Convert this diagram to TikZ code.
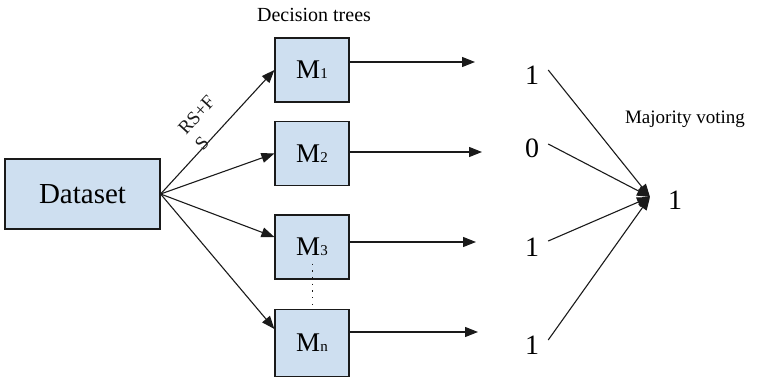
\documentclass[tikz,border=0pt]{standalone}
\usepackage{fontspec}
\setmainfont{Liberation Serif}
\newfontfamily\timesfont{Liberation Serif}
\usetikzlibrary{arrows.meta}
\definecolor{boxfill}{HTML}{CEDFF0}
\definecolor{edge}{HTML}{1A1A1A}
\tikzset{
  treebox/.style={draw=edge,fill=boxfill,line width=1.2pt,minimum width=74pt,minimum height=64pt,inner sep=0pt,font=\timesfont\fontsize{27}{27}\selectfont},
  flow/.style={edge,-{Triangle[length=13pt,width=10pt]},line width=1.1pt},
  vote/.style={font=\timesfont\fontsize{28}{28}\selectfont,inner sep=0pt}
}
\newcommand{\treeidx}[1]{{\fontsize{15}{15}\selectfont #1}}

\begin{document}
\begin{tikzpicture}[x=1pt,y=-1pt]
  \useasboundingbox (0,0) rectangle (763,380);

  % Input
  \node[treebox,minimum width=155pt,minimum height=70pt,font=\timesfont\fontsize{29}{29}\selectfont] (data) at (82.5,194) {Dataset};

  % Decision trees
  \node[font=\timesfont\fontsize{20}{20}\selectfont] (title) at (314,15) {Decision trees};
  \node[treebox] (m1) at (312,70) {M\treeidx{1}};
  \node[treebox] (m2) at (312,153.5) {M\treeidx{2}};
  \node[treebox] (m3) at (312,247) {M\treeidx{3}};
  \node[treebox,minimum height=67pt] (mn) at (312,343) {M\treeidx{n}};
  \draw[edge,line width=1pt,dash pattern=on 1.2pt off 5.5pt] ([yshift=16pt]m3.south) -- (mn.north);

  % Sampling arrows
  \draw[flow] (data.east) -- (m1.west)
    node[sloped,pos=0.49,above=-3pt,inner sep=0pt,align=left,font=\timesfont\fontsize{19}{23}\selectfont] (rsfs) {RS+F\\S};
  \draw[flow] (data.east) -- (m2.west);
  \draw[flow] (data.east) -- ([yshift=10pt]m3.west);
  \draw[flow] (data.east) -- ([yshift=14pt]mn.west);

  % Predictions
  \coordinate (o1) at (475,62);
  \coordinate (o2) at (482,152);
  \coordinate (o3) at (476,242);
  \coordinate (o4) at (478,332);
  \draw[flow] (m1.east |- o1) -- (o1);
  \draw[flow] (m2.east |- o2) -- (o2);
  \draw[flow] (m3.east |- o3) -- (o3);
  \draw[flow] (mn.east |- o4) -- (o4);

  \node[vote] (v1) at (532,75) {1};
  \node[vote] (v2) at (532,148) {0};
  \node[vote] (v3) at (532,247) {1};
  \node[vote] (v4) at (532,345) {1};

  % Majority voting
  \coordinate (meet) at (650,197);
  \node[vote] (res) at (675,200) {1};
  \node[font=\timesfont\fontsize{19}{19}\selectfont] (mv) at (685,119) {Majority voting};
  \draw[flow] ([xshift=9pt,yshift=5pt]v1.east) -- (meet);
  \draw[flow] ([xshift=9pt,yshift=4pt]v2.east) -- (meet);
  \draw[flow] ([xshift=9pt,yshift=6pt]v3.east) -- (meet);
  \draw[flow] ([xshift=9pt,yshift=5pt]v4.east) -- (meet);
\end{tikzpicture}
\end{document}
